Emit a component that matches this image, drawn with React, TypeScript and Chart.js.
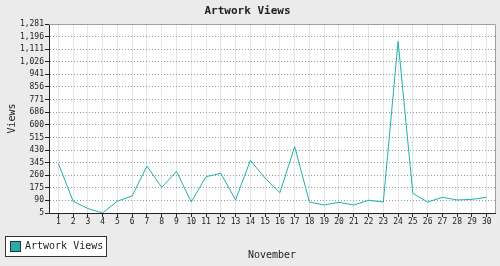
import React, { useEffect, useRef } from 'react';
import { Chart, registerables } from 'chart.js';

Chart.register(...registerables);

const chartTitle = 'Artwork Views';
const seriesLabel = 'Artwork Views';
const xAxisTitle = 'November';
const yAxisTitle = 'Views';

const days = [1, 2, 3, 4, 5, 6, 7, 8, 9, 10, 11, 12, 13, 14, 15, 16, 17, 18, 19, 20, 21, 22, 23, 24, 25, 26, 27, 28, 29, 30];
const views = [340, 85, 35, 5, 85, 120, 322, 178, 286, 79, 250, 273, 93, 360, 240, 142, 453, 79, 59, 77, 59, 91, 79, 1164, 138, 79, 111, 93, 97, 111];

const yTickValues = [5, 90, 175, 260, 345, 430, 515, 600, 686, 771, 856, 941, 1026, 1111, 1196, 1281];
const yTickLabels = ['5', '90', '175', '260', '345', '430', '515', '600', '686', '771', '856', '941', '1,026', '1,111', '1,196', '1,281'];

const MONO = '"DejaVu Sans Mono", "Liberation Mono", monospace';
const LINE_COLOR = '#20b2aa';

const framePlugin = {
  id: 'frame',
  beforeDraw(chart: any) {
    const { ctx, chartArea: a, width, height } = chart;
    ctx.save();
    ctx.fillStyle = '#ebebeb';
    ctx.fillRect(0, 0, width, height);
    ctx.fillStyle = '#ffffff';
    ctx.fillRect(a.left, a.top, a.right - a.left, a.bottom - a.top);
    ctx.restore();
  },
  afterDraw(chart: any) {
    const { ctx, chartArea: a } = chart;
    ctx.save();
    ctx.strokeStyle = '#a0a0a0';
    ctx.lineWidth = 1;
    ctx.beginPath();
    ctx.moveTo(Math.round(a.left), Math.round(a.top) + 0.5);
    ctx.lineTo(Math.round(a.right) + 0.5, Math.round(a.top) + 0.5);
    ctx.lineTo(Math.round(a.right) + 0.5, Math.round(a.bottom));
    ctx.stroke();

    // legend box
    const label = chart.data.datasets[0].label;
    ctx.fillStyle = '#ffffff';
    ctx.fillRect(5, 236, 101, 20);
    ctx.strokeStyle = '#333333';
    ctx.strokeRect(5.5, 236.5, 101, 20);
    ctx.fillStyle = '#2aaca8';
    ctx.fillRect(10, 241, 10, 10);
    ctx.strokeStyle = '#1e3838';
    ctx.strokeRect(10.5, 241.5, 10, 10);
    ctx.fillStyle = '#222222';
    ctx.font = '10px ' + MONO;
    ctx.textBaseline = 'middle';
    ctx.textAlign = 'left';
    ctx.fillText(label, 25, 246.5);
    ctx.restore();
  },
};

export default function App() {
  const ref = useRef<HTMLCanvasElement>(null);

  useEffect(() => {
    document.body.style.margin = '0';
    document.body.style.background = '#ebebeb';
    const chart = new Chart(ref.current as HTMLCanvasElement, {
      type: 'line',
      data: {
        datasets: [
          {
            label: seriesLabel,
            data: days.map((d, i) => ({ x: d, y: views[i] })),
            borderColor: LINE_COLOR,
            backgroundColor: LINE_COLOR,
            borderWidth: 1,
            pointRadius: 0,
            tension: 0,
            fill: false,
          },
        ],
      },
      options: {
        animation: false,
        responsive: false,
        maintainAspectRatio: false,
        layout: { padding: { left: 0, right: 5, top: 0, bottom: 0 } },
        plugins: {
          legend: { display: false },
          tooltip: { enabled: false },
          title: {
            display: true,
            text: chartTitle,
            color: '#222222',
            font: { family: MONO, size: 11, weight: 'bold' },
            padding: { top: 5, bottom: 5.8 },
          },
        },
        scales: {
          x: {
            type: 'linear',
            min: 0.37,
            max: 30.56,
            afterBuildTicks: (s: any) => {
              s.ticks = days.map((d) => ({ value: d }));
            },
            afterFit: (s: any) => {
              s.height = 53;
            },
            ticks: {
              autoSkip: false,
              maxRotation: 0,
              padding: 0,
              color: '#222222',
              font: { family: MONO, size: 8 },
              callback: (_v: any, i: number) => String(days[i]),
            },
            grid: { color: '#e6e6e6', tickColor: '#222222', tickLength: 4 },
            border: { color: '#222222' },
            title: {
              display: true,
              text: xAxisTitle,
              color: '#222222',
              font: { family: MONO, size: 10 },
              padding: { top: 0, bottom: 4.5 },
            },
          },
          y: {
            min: 5,
            max: 1281,
            afterBuildTicks: (s: any) => {
              s.ticks = yTickValues.map((v) => ({ value: v }));
            },
            afterFit: (s: any) => {
              s.width = 49;
            },
            ticks: {
              autoSkip: false,
              padding: 1,
              color: '#222222',
              font: { family: MONO, size: 8 },
              callback: (_v: any, i: number) => yTickLabels[i] ?? '',
            },
            grid: { color: '#999999', tickColor: '#222222', tickLength: 4 },
            border: { color: '#222222', dash: [1, 2] },
            title: {
              display: true,
              text: yAxisTitle,
              color: '#222222',
              font: { family: MONO, size: 10 },
              padding: { top: 6.7, bottom: 0 },
            },
          },
        },
      },
      plugins: [framePlugin],
    } as any);
    return () => chart.destroy();
  }, []);

  return (
    <div style={{ position: 'absolute', left: 0, top: 0, width: 500, height: 266, background: '#ebebeb' }}>
      <canvas ref={ref} width={500} height={266} style={{ display: 'block', width: 500, height: 266 }} />
    </div>
  );
}
